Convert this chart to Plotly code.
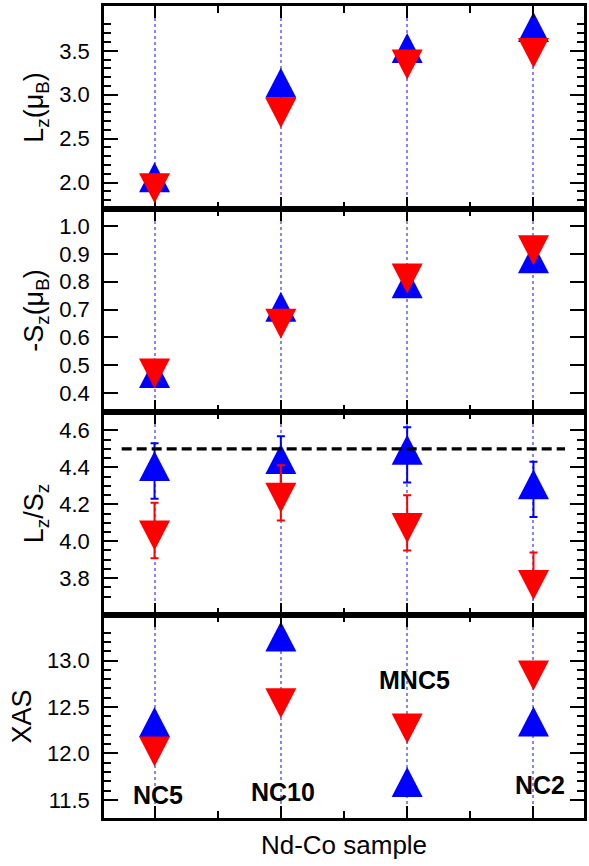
import plotly.graph_objects as go
from plotly.subplots import make_subplots

# ---------------- data ----------------
samples = ["NC5", "NC10", "MNC5", "NC2"]
xpos = [1, 2, 3, 4]

lz_up = [2.003, 3.080, 3.476, 3.714]
lz_down = [1.993, 2.850, 3.400, 3.532]

msz_up = [0.454, 0.692, 0.776, 0.866]
msz_down = [0.488, 0.667, 0.829, 0.931]

ratio_up = [4.380, 4.418, 4.468, 4.281]
ratio_down = [4.058, 4.262, 4.099, 3.789]
ratio_err_up = [0.15, 0.15, 0.15, 0.15]
ratio_errminus_up = [0.15, 0.15, 0.15, 0.15]
ratio_err_down = [0.15, 0.15, 0.15, 0.15]
ratio_errminus_down = [0.15, 0.15, 0.15, 0.0]
ratio_ref = 4.5
ratio_ref_xspan = [0.74, 4.25]

xas_up = [12.284, 13.205, 11.639, 12.290]
xas_down = [12.074, 12.595, 12.324, 12.892]

# sample label placement on XAS panel (x, y in data units)
label_x = [1.03, 2.02, 3.06, 4.05]
label_y = [11.554, 11.59, 12.79, 11.66]

panel_titles = ["L<sub>z</sub>(μ<sub>B</sub>)", "-S<sub>z</sub>(μ<sub>B</sub>)",
                "L<sub>z</sub>/S<sub>z</sub>", "XAS"]
y_ranges = [[1.70, 4.01], [0.332, 1.061], [3.60, 4.70], [11.306, 13.49]]
y_major = [[2.0, 2.5, 3.0, 3.5],
           [0.4, 0.5, 0.6, 0.7, 0.8, 0.9, 1.0],
           [3.8, 4.0, 4.2, 4.4, 4.6],
           [11.5, 12.0, 12.5, 13.0]]
y_minor = [[1.8, 1.9, 2.1, 2.2, 2.3, 2.4, 2.6, 2.7, 2.8, 2.9, 3.1, 3.2, 3.3, 3.4, 3.6, 3.7, 3.8],
           [],
           [3.70, 3.75, 3.85, 3.90, 3.95, 4.05, 4.10, 4.15, 4.25, 4.30, 4.35, 4.45, 4.50, 4.55],
           [11.6, 11.7, 11.8, 11.9, 12.1, 12.2, 12.3, 12.4, 12.6, 12.7, 12.8, 12.9, 13.1, 13.2, 13.3]]
x_minor = [1.5, 2.5, 3.5]

BLUE = "#0000ff"
RED = "#ff0000"
FONT = "Liberation Sans, Arial, Helvetica, sans-serif"

# triangle glyphs (pixel offsets around the data point = centroid)
TRI_UP = "M-15.5,-10 L15.5,-10 L0,20 Z"
TRI_DOWN = "M-15.5,10 L15.5,10 L0,-20 Z"

fig = make_subplots(rows=4, cols=1, vertical_spacing=0)

panels = [
    (lz_up, lz_down, None, None),
    (msz_up, msz_down, None, None),
    (ratio_up, ratio_down, (ratio_err_up, ratio_errminus_up), (ratio_err_down, ratio_errminus_down)),
    (xas_up, xas_down, None, None),
]

shapes = []
for i, (up, down, eup, edn) in enumerate(panels):
    row = i + 1
    xr = "x" if row == 1 else f"x{row}"
    yr = "y" if row == 1 else f"y{row}"
    for vals, err, col, name in [(up, eup, BLUE, "up"), (down, edn, RED, "down")]:
        tr = go.Scatter(x=xpos, y=vals, mode="markers", name=name, showlegend=False,
                        marker=dict(size=2, color="rgba(0,0,0,0)"),
                        hovertext=samples)
        if err is not None:
            tr.error_y = dict(type="data", array=err[0], arrayminus=err[1], symmetric=False,
                              visible=True, color=col, thickness=2, width=4)
        fig.add_trace(tr, row=row, col=1)
    # blue glyphs below traces (between grid and traces), red glyphs above
    for xv, yv in zip(xpos, up):
        shapes.append(dict(type="path", xref=xr, yref=yr, xsizemode="pixel", ysizemode="pixel",
                           xanchor=xv, yanchor=yv, path=TRI_UP, fillcolor=BLUE,
                           line=dict(width=0), layer="between"))
    for xv, yv in zip(xpos, down):
        shapes.append(dict(type="path", xref=xr, yref=yr, xsizemode="pixel", ysizemode="pixel",
                           xanchor=xv, yanchor=yv, path=TRI_DOWN, fillcolor=RED,
                           line=dict(width=0), layer="above"))

# reference dashed line L/S = 4.5
shapes.append(dict(type="line", xref="x3", yref="y3", x0=ratio_ref_xspan[0], x1=ratio_ref_xspan[1],
                   y0=ratio_ref, y1=ratio_ref, line=dict(color="black", width=3.4, dash="10px,5px"),
                   layer="above"))

fig.update_layout(shapes=shapes)

for i in range(4):
    row = i + 1
    fig.update_yaxes(row=row, col=1, range=y_ranges[i], tickvals=y_major[i],
                     ticktext=[f"{v:.1f}" for v in y_major[i]],
                     ticks="inside", ticklen=14, tickwidth=2, tickcolor="black",
                     minor=dict(tickvals=y_minor[i], ticks="inside", ticklen=7, tickwidth=2,
                                tickcolor="black"),
                     showline=True, linewidth=2.5, linecolor="black", mirror="allticks",
                     showgrid=False, zeroline=False, ticklabelstandoff=7,
                     tickfont=dict(family=FONT, size=22, color="black"),
                     title=dict(text=panel_titles[i], font=dict(family=FONT, size=27, color="black"),
                                standoff=8))
    fig.update_xaxes(row=row, col=1, range=[0.6, 4.4], tickvals=xpos, showticklabels=False,
                     ticks="inside", ticklen=12, tickwidth=2, tickcolor="black",
                     minor=dict(tickvals=x_minor, ticks="inside", ticklen=7, tickwidth=2,
                                tickcolor="black"),
                     showline=True, linewidth=2.5, linecolor="black", mirror="allticks",
                     showgrid=True, gridcolor="#8585ff", gridwidth=1.5, griddash="dot",
                     zeroline=False)

fig.update_xaxes(row=4, col=1, title=dict(text="Nd-Co sample",
                                           font=dict(family=FONT, size=26, color="black"),
                                           standoff=17))

for s, lx, ly in zip(samples, label_x, label_y):
    fig.add_annotation(x=lx, y=ly, xref="x4", yref="y4", text=f"<b>{s}</b>", showarrow=False,
                       font=dict(family=FONT, size=25, color="black"))

fig.update_layout(width=589, height=866, margin=dict(l=104, r=2, t=6, b=48),
                  plot_bgcolor="white", paper_bgcolor="white", showlegend=False,
                  font=dict(family=FONT, color="black"))

fig.write_html("out.html")
